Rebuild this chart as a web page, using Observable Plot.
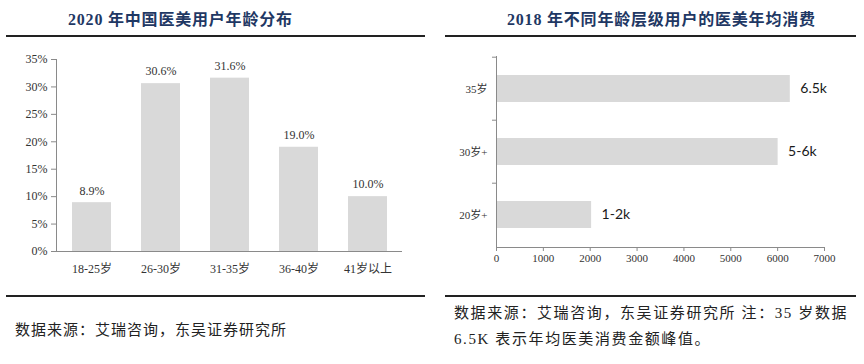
<!DOCTYPE html>
<html>
<head>
<meta charset="utf-8">
<script src="https://cdn.jsdelivr.net/npm/d3@7"></script>
<script src="https://cdn.jsdelivr.net/npm/@observablehq/plot@0.6"></script>
<style>
  html, body { margin: 0; padding: 0; background: #fff; }
  #root { position: relative; width: 864px; height: 364px; overflow: hidden; background: #fff; }
  .title { position: absolute; top: 9px; font-family: "Liberation Serif", "Noto Sans CJK SC", serif; font-weight: bold; font-size: 16px; color: #1f3864; white-space: nowrap; line-height: 22px; letter-spacing: 0.8px; }
  .hr { position: absolute; height: 2px; background: #222; }
  .cap { position: absolute; font-family: "Liberation Serif", "Noto Sans CJK SC", serif; font-size: 15px; color: #222; white-space: nowrap; line-height: 20px; letter-spacing: 1px; }
  .plot { position: absolute; top: 40px; }
</style>
</head>
<body>
<div id="root">
  <div class="title" style="left:68px">2020 年中国医美用户年龄分布</div>
  <div class="title" style="left:507px">2018 年不同年龄层级用户的医美年均消费</div>
  <div class="hr" style="left:6px; width:419px; top:35px"></div>
  <div class="hr" style="left:445px; width:411px; top:35px"></div>
  <div class="hr" style="left:6px; width:419px; top:295px"></div>
  <div class="hr" style="left:445px; width:411px; top:295px"></div>
  <div class="cap" style="left:15px; top:320px">数据来源：艾瑞咨询，东吴证券研究所</div>
  <div class="cap" style="left:454px; top:303px; letter-spacing:1.6px">数据来源：艾瑞咨询，东吴证券研究所 注：35 岁数据</div>
  <div class="cap" style="left:454px; top:329px; letter-spacing:1.6px">6.5K 表示年均医美消费金额峰值。</div>
  <div id="left" class="plot" style="left:0px"></div>
  <div id="right" class="plot" style="left:432px"></div>
</div>
<script>
// ---- Left chart data ----
const ageCats = ["18-25岁", "26-30岁", "31-35岁", "36-40岁", "41岁以上"];
const agePct = [8.9, 30.6, 31.6, 19.0, 10.0];
const agePctLabels = ["8.9%", "30.6%", "31.6%", "19.0%", "10.0%"];
const leftYTicks = [0, 5, 10, 15, 20, 25, 30, 35];

// ---- Right chart data ----
const spendCats = ["35岁", "30岁+", "20岁+"];
const spendValues = [6270, 6010, 2030];
const spendLabels = ["6.5k", "5-6k", "1-2k"];
const rightXTicks = [0, 1000, 2000, 3000, 4000, 5000, 6000, 7000];

const leftData = ageCats.map((c, i) => ({cat: c, v: agePct[i], label: agePctLabels[i]}));
const rightData = spendCats.map((c, i) => ({cat: c, v: spendValues[i], label: spendLabels[i]}));

const axisGray = "#8a8a8a";

const left = Plot.plot({
  width: 432, height: 245,
  marginLeft: 56, marginRight: 30, marginTop: 19, marginBottom: 34,
  style: {fontFamily: "'Liberation Serif', 'Noto Sans CJK SC', serif", fontSize: "12px", color: "#333", background: "transparent"},
  x: {domain: ageCats, padding: 0, label: null},
  y: {domain: [0, 35], label: null},
  marks: [
    Plot.barY(leftData, {x: "cat", y: "v", fill: "#d9d9d9", insetLeft: 15, insetRight: 15}),
    Plot.text(leftData, {x: "cat", y: "v", text: "label", dy: -12, fill: "#333", fontSize: 12}),
    Plot.axisY({ticks: leftYTicks, tickFormat: d => d + "%", tickSize: 5, tickPadding: 4, stroke: axisGray, label: null}),
    Plot.axisX({tickSize: 0, tickPadding: 13, label: null}),
    Plot.ruleY([0], {stroke: axisGray}),
    Plot.frame({anchor: "left", stroke: axisGray})
  ]
});
document.getElementById("left").appendChild(left);

const right = Plot.plot({
  width: 432, height: 245,
  marginLeft: 64, marginRight: 40, marginTop: 16, marginBottom: 38,
  style: {fontFamily: "'Liberation Serif', 'Noto Sans CJK SC', serif", fontSize: "11px", color: "#333", background: "transparent"},
  x: {domain: [0, 7000], label: null},
  y: {domain: spendCats, padding: 0, label: null},
  marks: [
    Plot.barX(rightData, {y: "cat", x: "v", fill: "#d9d9d9", insetTop: 18, insetBottom: 18}),
    Plot.text(rightData, {y: "cat", x: "v", text: "label", dx: 10, textAnchor: "start", fontFamily: "Lato, 'Open Sans', sans-serif", fontSize: 14, fill: "#1a1a1a"}),
    Plot.axisY({tickSize: 0, tickPadding: 9, fontSize: 11, label: null}),
    Plot.axisX({ticks: rightXTicks, tickFormat: d3.format("d"), tickSize: 4, tickPadding: 3, stroke: axisGray, fontSize: 11, label: null}),
    Plot.ruleY(spendCats, {x1: 0, x2: 0, insetLeft: -4, dy: -31.8, stroke: axisGray}),
    Plot.ruleX([0], {stroke: axisGray}),
    Plot.frame({anchor: "bottom", stroke: axisGray})
  ]
});
document.getElementById("right").appendChild(right);
</script>
</body>
</html>
